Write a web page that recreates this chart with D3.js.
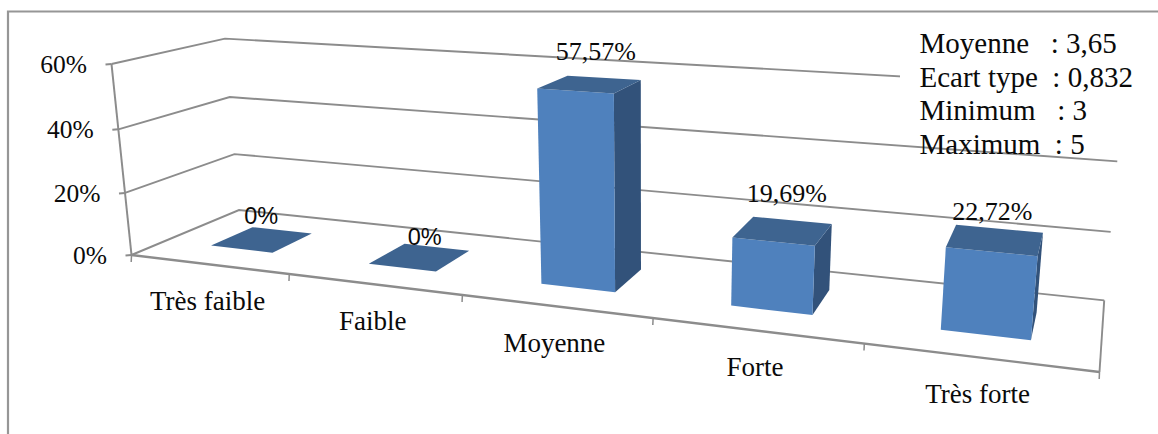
<!DOCTYPE html>
<html lang="fr">
<head>
<meta charset="utf-8">
<style>
  html, body { margin: 0; padding: 0; background: #fff; }
  svg { display: block; }
  text { font-family: "Liberation Serif", serif; fill: #0a0a0a; }
</style>
<script src="https://cdn.jsdelivr.net/npm/d3@7"></script>
</head>
<body>
<svg id="chart" width="1158" height="434"></svg>
<script>
// Distribution of answers over the five levels, in percent
const categories = ["Très faible", "Faible", "Moyenne", "Forte", "Très forte"];
const shares = [0, 0, 57.57, 19.69, 22.72];
const shareLabels = ["0%", "0%", "57,57%", "19,69%", "22,72%"];
const valueTicks = [0, 20, 40, 60];
const statLines = ["Moyenne\u00a0\u00a0 : 3,65", "Ecart type\u00a0 : 0,832", "Minimum\u00a0\u00a0 : 3", "Maximum\u00a0 : 5"];

// Hand placement of each data label relative to the top of its bar
const labelNudge = [[-1, 7], [5, 12], [6, -9], [4, -4], [-3, 7]];

const svg = d3.select("#chart");

// Normalised scene axes: along the categories, up the values, into the depth
const sU = d3.scaleLinear().domain([0, categories.length]).range([0, 1]);
const sV = d3.scaleLinear().domain([0, 60]).range([0, 1]);

// Projective camera defined by the images of the box corners and the axis weights
const O = [131.5, 255], U = [1099.5, 372], V = [111.5, 64], D = [239, 210];
const rU = 0.779, rV = 0.9626, rD = 1.12;

function project(cat, val, depth) {
  const s = sU(cat), t = sV(val), d = depth;
  const w = 1 + (rU - 1) * s + (rV - 1) * t + (rD - 1) * d;
  const axis = i => O[i] + (U[i] * rU - O[i]) * s + (V[i] * rV - O[i]) * t + (D[i] * rD - O[i]) * d;
  return [axis(0) / w, axis(1) / w];
}

const path = pts => "M" + pts.map(p => p.map(n => n.toFixed(2)).join(",")).join("L");
const poly = pts => path(pts) + "Z";

// Outer chart frame, open towards the right and bottom edges of the page
svg.append("path")
  .attr("d", "M8,434V11.5H1158")
  .attr("fill", "none").attr("stroke", "#969696").attr("stroke-width", 2.2);

const gridColor = "#8c8c8c";

// Gridlines run along the side wall, then along the back wall
const grid = svg.append("g").attr("fill", "none").attr("stroke", gridColor).attr("stroke-width", 1.9);
grid.selectAll("path").data(valueTicks).join("path")
  .attr("d", v => path([project(0, v, 0), project(0, v, 1), project(5, v, 1)]));

// Right edge of the floor
grid.append("path").attr("d", path([project(5, 0, 1), project(5, 0, 0)]));

// Value axis with ticks and labels
const axis = svg.append("g").attr("fill", "none").attr("stroke", gridColor);
axis.append("path").attr("stroke-width", 2).attr("d", path([project(0, 0, 0), project(0, 60, 0)]));
axis.selectAll(".vt").data(valueTicks).join("path").attr("class", "vt").attr("stroke-width", 1.9)
  .attr("d", v => { const p = project(0, v, 0); return path([[p[0] - 6, p[1] + 0.5], p]); });

svg.append("g").selectAll("text").data(valueTicks).join("text")
  .attr("font-size", 25.5).attr("text-anchor", "end")
  .attr("x", v => project(0, v, 0)[0] - 24.5)
  .attr("y", v => project(0, v, 0)[1] + 9)
  .text(v => v + "%");

// Category axis with ticks on the band edges
axis.append("path").attr("stroke-width", 2.4).attr("d", path([project(0, 0, 0), project(5, 0, 0)]));
axis.selectAll(".ct").data(d3.range(categories.length + 1)).join("path").attr("class", "ct").attr("stroke-width", 1.5)
  .attr("d", i => { const p = project(i, 0, 0); return path([p, [p[0] - 0.3, p[1] + 7]]); });

svg.append("g").selectAll("text").data(categories).join("text")
  .attr("font-size", 27).attr("text-anchor", "middle")
  .attr("x", (c, i) => project(i + 0.5, 0, 0)[0] - 1)
  .attr("y", (c, i) => project(i + 0.5, 0, 0)[1] + 46)
  .text(c => c);

// Bars as boxes: 40% of the band wide and 40% of the floor deep
const gap = 0.3, dFront = 0.3, dBack = 0.7;
const bars = svg.append("g").selectAll("g").data(shares).join("g");

bars.each(function (v, i) {
  const g = d3.select(this);
  const l = i + gap, r = i + 1 - gap;
  if (v > 0) {
    g.append("path").attr("fill", "#32527a").attr("d", poly([
      project(r, 0, dFront), project(r, 0, dBack), project(r, v, dBack), project(r, v, dFront)]));
    g.append("path").attr("fill", "#4f81bd").attr("d", poly([
      project(l, 0, dFront), project(r, 0, dFront), project(r, v, dFront), project(l, v, dFront)]));
  }
  g.append("path").attr("fill", "#3e6490").attr("d", poly([
    project(l, v, dFront), project(r, v, dFront), project(r, v, dBack), project(l, v, dBack)]));
});

// Data labels above each bar; the empty bars carry a lighter sans label
svg.append("g").selectAll("text").data(shares).join("text")
  .attr("font-size", v => v > 0 ? 26 : 23.5)
  .style("font-family", v => v > 0 ? null : "'Liberation Sans', sans-serif")
  .attr("text-anchor", "middle")
  .attr("x", (v, i) => project(i + 0.5, v, 0.5)[0] + labelNudge[i][0])
  .attr("y", (v, i) => project(i + 0.5, v, 1)[1] + labelNudge[i][1])
  .text((v, i) => shareLabels[i]);

// Summary statistics box laid over the top right of the plot
const box = svg.append("g");
box.append("rect").attr("x", 900).attr("y", 14).attr("width", 258).attr("height", 112).attr("fill", "#fff");
box.selectAll("text").data(statLines).join("text")
  .attr("font-size", 29).attr("x", 919.5)
  .attr("y", (t, i) => 53 + i * 33.6)
  .text(t => t);
</script>
</body>
</html>
